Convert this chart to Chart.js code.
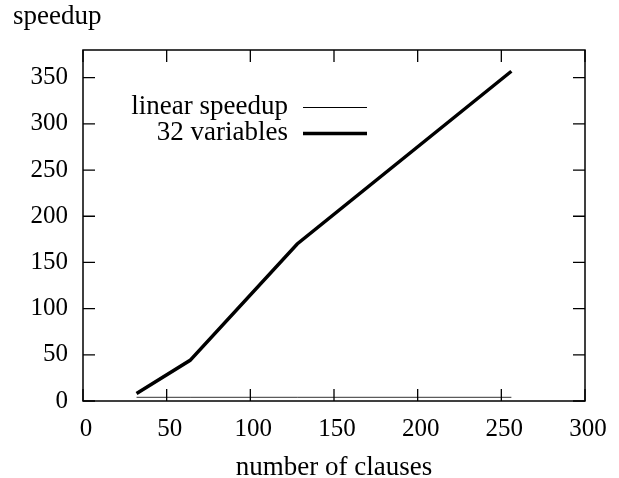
<!DOCTYPE html>
<html>
<head>
<meta charset="utf-8">
<script src="https://cdn.jsdelivr.net/npm/chart.js@4.4.0/dist/chart.umd.min.js"></script>
<style>
html,body{margin:0;padding:0;background:#fff;}
#wrap{width:619px;height:478px;position:relative;}
</style>
</head>
<body>
<div id="wrap"><canvas id="c" width="619" height="478"></canvas></div>
<script>
const clauses = [32, 64, 128, 256];
const linearSpeedup = [4, 4, 4, 4];
const vars32 = [8, 44, 170, 357];
const xTicks = [0, 50, 100, 150, 200, 250, 300];
const yTicks = [0, 50, 100, 150, 200, 250, 300, 350];
const seriesNames = ['linear speedup', '32 variables'];
const yTitle = 'speedup';
const xTitle = 'number of clauses';

const FONT = 'Liberation Serif';
const FS_TICK = 25;
const FS_TEXT = 27;

const frame = {
  id: 'frame',
  afterDraw(chart) {
    const ctx = chart.ctx, a = chart.chartArea;
    const xs = chart.scales.x, ys = chart.scales.y;
    ctx.save();
    ctx.strokeStyle = '#000';
    ctx.lineWidth = 1.5;
    ctx.strokeRect(a.left, a.top, a.right - a.left, a.bottom - a.top);
    const tl = 12;
    ctx.lineWidth = 1.3;
    ctx.beginPath();
    xTicks.forEach(v => {
      const px = xs.getPixelForValue(v);
      ctx.moveTo(px, a.bottom); ctx.lineTo(px, a.bottom - tl);
      ctx.moveTo(px, a.top); ctx.lineTo(px, a.top + tl);
    });
    yTicks.forEach(v => {
      const py = ys.getPixelForValue(v);
      ctx.moveTo(a.left, py); ctx.lineTo(a.left + tl, py);
      ctx.moveTo(a.right, py); ctx.lineTo(a.right - tl, py);
    });
    ctx.stroke();
    ctx.fillStyle = '#000';
    ctx.font = FS_TEXT + 'px "' + FONT + '"';
    // y title (top-left)
    ctx.textAlign = 'left';
    ctx.textBaseline = 'alphabetic';
    ctx.fillText(yTitle, 13, 24);
    // x title
    ctx.textAlign = 'center';
    ctx.fillText(xTitle, (a.left + a.right) / 2, 475);
    // legend
    ctx.textAlign = 'right';
    ctx.textBaseline = 'middle';
    const ds = chart.data.datasets;
    const rows = [107, 133];
    ds.forEach((d, i) => {
      ctx.fillStyle = '#000';
      ctx.fillText(d.label, 288, rows[i]);
      ctx.strokeStyle = i === 0 ? '#000' : d.borderColor;
      ctx.lineWidth = i === 0 ? 1 : d.borderWidth;
      ctx.beginPath();
      ctx.moveTo(303, rows[i] + 0.5); ctx.lineTo(367, rows[i] + 0.5);
      ctx.stroke();
    });
    ctx.restore();
  }
};

new Chart(document.getElementById('c'), {
  type: 'scatter',
  data: {
    datasets: [
      {
        label: seriesNames[0],
        data: clauses.map((x, i) => ({x, y: linearSpeedup[i]})),
        showLine: true, borderColor: '#333', borderWidth: 1,
        pointRadius: 0, tension: 0
      },
      {
        label: seriesNames[1],
        data: clauses.map((x, i) => ({x, y: vars32[i]})),
        showLine: true, borderColor: '#000', borderWidth: 3.5,
        pointRadius: 0, tension: 0
      }
    ]
  },
  options: {
    responsive: false,
    animation: false,
    devicePixelRatio: 1,
    layout: { padding: { left: 0, right: 34, top: 50, bottom: 0 } },
    plugins: { legend: { display: false }, tooltip: { enabled: false } },
    scales: {
      x: {
        type: 'linear', min: 0, max: 300,
        afterBuildTicks: s => { s.ticks = xTicks.map(v => ({value: v})); },
        afterFit: s => { s.height = 77; },
        grid: { display: false, drawTicks: false },
        border: { display: false },
        ticks: { color: '#000', font: { family: FONT, size: FS_TICK }, padding: 13, labelOffset: 3, maxRotation: 0, autoSkip: false }
      },
      y: {
        type: 'linear', min: 0, max: 380,
        afterBuildTicks: s => { s.ticks = yTicks.map(v => ({value: v})); },
        afterFit: s => { s.width = 83; },
        grid: { display: false, drawTicks: false },
        border: { display: false },
        ticks: { color: '#000', font: { family: FONT, size: FS_TICK }, padding: 15, autoSkip: false }
      }
    }
  },
  plugins: [frame]
});
</script>
</body>
</html>
